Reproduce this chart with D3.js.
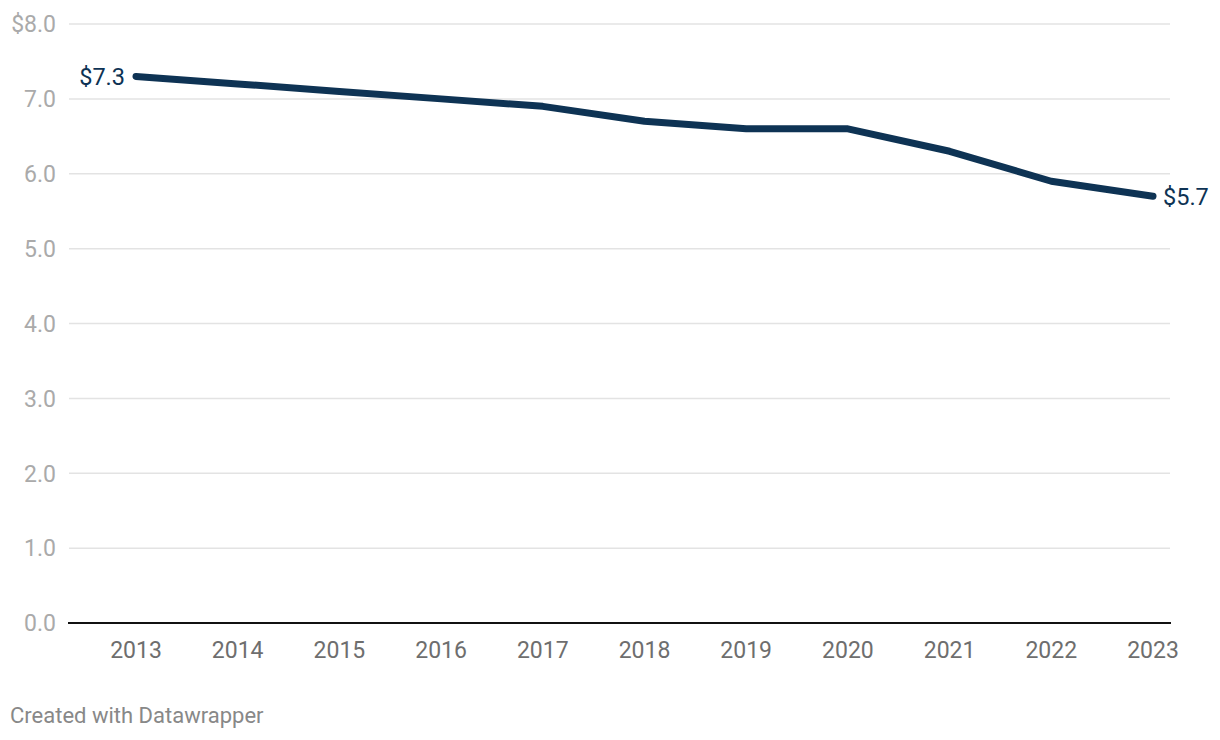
<!DOCTYPE html>
<html><head><meta charset="utf-8">
<script src="https://cdn.jsdelivr.net/npm/d3@7"></script>
<style>
body{margin:0;background:#fff;font-family:Roboto,"Noto Sans",sans-serif;}
svg{display:block;}
</style></head><body>
<svg id="c" width="1220" height="740"></svg>
<script>
const years = [2013,2014,2015,2016,2017,2018,2019,2020,2021,2022,2023];
const values = [7.3,7.2,7.1,7.0,6.9,6.7,6.6,6.6,6.3,5.9,5.7];
const yTicks = [0,1,2,3,4,5,6,7,8];

const svg = d3.select("#c");
const x = d3.scaleLinear().domain([2013,2023]).range([136,1153]);
const y = d3.scaleLinear().domain([0,8]).range([623,24]);

const grid = svg.append("g");
yTicks.forEach(t=>{
  if(t>0){
    grid.append("line").attr("x1",69).attr("x2",1170).attr("y1",y(t)).attr("y2",y(t))
      .attr("stroke","#e3e3e3").attr("stroke-width",1.5);
  }
  grid.append("text").attr("x",56).attr("y",y(t)).attr("dy","0.36em")
    .attr("text-anchor","end").attr("fill","#aaaaaa").attr("font-size",23)
    .text(t===8?"$8.0":d3.format(".1f")(t));
});
svg.append("line").attr("x1",68).attr("x2",1171).attr("y1",y(0)).attr("y2",y(0))
  .attr("stroke","#111").attr("stroke-width",2);

years.forEach(yr=>{
  svg.append("text").attr("x",x(yr)).attr("y",658).attr("text-anchor","middle")
    .attr("fill","#6e6e6e").attr("font-size",23).text(yr);
});

const line = d3.line().x((d,i)=>x(years[i])).y(d=>y(d));
svg.append("path").datum(values).attr("d",line).attr("fill","none")
  .attr("stroke","#0e3354").attr("stroke-width",7).attr("stroke-linecap","round").attr("stroke-linejoin","round");

svg.append("text").attr("x",x(years[0])-11).attr("y",y(values[0])).attr("dy","0.36em")
  .attr("text-anchor","end").attr("fill","#0e3354").attr("font-size",23.5).text("$"+values[0].toFixed(1));
const n=values.length-1;
svg.append("text").attr("x",x(years[n])+10).attr("y",y(values[n])).attr("dy","0.36em")
  .attr("text-anchor","start").attr("fill","#0e3354").attr("font-size",23.5).text("$"+values[n].toFixed(1));

svg.append("text").attr("x",10).attr("y",723).attr("fill","#888").attr("font-size",22).text("Created with Datawrapper");
</script></body></html>
